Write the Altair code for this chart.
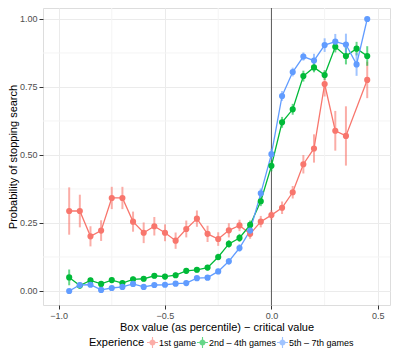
import altair as alt
import pandas as pd

x_vals = [-0.95, -0.90, -0.85, -0.80, -0.75, -0.70, -0.65, -0.60, -0.55, -0.50,
          -0.45, -0.40, -0.35, -0.30, -0.25, -0.20, -0.15, -0.10, -0.05, 0.00,
          0.05, 0.10, 0.15, 0.20, 0.25, 0.30, 0.35, 0.40, 0.45]

groups = ["1st game", "2nd \u2013 4th games", "5th \u2013 7th games"]
colors = ["#F8766D", "#00BA38", "#619CFF"]

first_game = [0.294, 0.294, 0.201, 0.222, 0.342, 0.342, 0.255, 0.214, 0.238, 0.214,
              0.185, 0.228, 0.266, 0.210, 0.191, 0.223, 0.241, 0.210, 0.255, 0.279,
              0.306, 0.363, 0.466, 0.524, 0.761, 0.589, 0.570, None, 0.776]
first_err = [0.087, 0.060, 0.037, 0.038, 0.041, 0.041, 0.037, 0.038, 0.034, 0.031,
             0.030, 0.031, 0.030, 0.030, 0.025, 0.026, 0.021, 0.018, 0.021, 0.018,
             0.023, 0.023, 0.034, 0.052, 0.046, 0.073, 0.109, None, 0.067]

mid_games = [0.050, 0.020, 0.039, 0.026, 0.040, 0.029, 0.043, 0.045, 0.056, 0.053,
             0.058, 0.074, 0.078, 0.086, 0.125, 0.173, 0.195, 0.243, 0.330, 0.460,
             0.620, 0.668, 0.790, 0.822, 0.794, 0.898, 0.864, 0.891, 0.864]
mid_err = [0.029, 0.010, 0.010, 0.010, 0.010, 0.010, 0.010, 0.010, 0.010, 0.010,
           0.010, 0.010, 0.010, 0.010, 0.012, 0.014, 0.015, 0.016, 0.018, 0.020,
           0.020, 0.020, 0.020, 0.018, 0.018, 0.021, 0.031, 0.025, 0.036]

late_games = [0.000, 0.022, 0.023, 0.004, 0.011, 0.015, 0.026, 0.015, 0.022, 0.023,
              0.027, 0.029, 0.047, 0.049, 0.072, 0.109, 0.158, 0.222, 0.359, 0.503,
              0.717, 0.805, 0.862, 0.847, 0.904, 0.917, 0.906, 0.833, 1.000]
late_err = [0.000, 0.006, 0.006, 0.004, 0.006, 0.006, 0.006, 0.006, 0.006, 0.006,
            0.006, 0.006, 0.008, 0.008, 0.010, 0.012, 0.014, 0.016, 0.018, 0.020,
            0.018, 0.016, 0.015, 0.025, 0.025, 0.028, 0.040, 0.042, 0.000]

x_major = [-1.0, -0.5, 0.0, 0.5]
x_minor = [-0.75, -0.25, 0.25]
y_major = [0.0, 0.25, 0.5, 0.75, 1.0]
y_minor = [0.125, 0.375, 0.625, 0.875]

rows = []
for g, vals, errs in zip(groups, [first_game, mid_games, late_games],
                         [first_err, mid_err, late_err]):
    for x, v, e in zip(x_vals, vals, errs):
        if v is None:
            continue
        rows.append({"x": x, "p": v, "lo": v - e, "hi": v + e, "group": g})
df = pd.DataFrame(rows)

FONT = "Liberation Sans"
xscale = alt.Scale(domain=[-1.073, 0.557], nice=False, zero=False)
yscale = alt.Scale(domain=[-0.0515, 1.0404], nice=False, zero=False)
cscale = alt.Scale(domain=groups, range=colors)

# legend key: point with line and error bar crossing it
KEY = ("M-1,-0.1H1V0.1H-1Z M-0.1,-1H0.1V1H-0.1Z "
       "M0.55,0A0.55,0.55 0 1,1 -0.55,0A0.55,0.55 0 1,1 0.55,0Z")

xaxis = alt.Axis(values=x_major, format=".1f", title="Box value (as percentile) \u2212 critical value",
                 grid=True, gridColor="#ebebeb", gridWidth=1, domain=False,
                 tickColor="#333333", tickSize=4, labelColor="#4d4d4d", labelFontSize=9,
                 labelPadding=2, titleFontSize=11, titleFontWeight="normal",
                 titleColor="#000000", titlePadding=1, labelFont=FONT, titleFont=FONT)
yaxis = alt.Axis(values=y_major, format=".2f", title="Probability of stopping search",
                 grid=True, gridColor="#ebebeb", gridWidth=1, domain=False,
                 tickColor="#333333", tickSize=4, labelColor="#4d4d4d", labelFontSize=9,
                 labelPadding=2, titleFontSize=11, titleFontWeight="normal",
                 titleColor="#000000", titlePadding=1, labelFont=FONT, titleFont=FONT)

base = alt.Chart(df)

minor_x = alt.Chart(pd.DataFrame({"v": x_minor})).mark_rule(
    color="#f4f4f4", strokeWidth=1).encode(x=alt.X("v:Q", scale=xscale, axis=xaxis))
minor_y = alt.Chart(pd.DataFrame({"v": y_minor})).mark_rule(
    color="#f4f4f4", strokeWidth=1).encode(y=alt.Y("v:Q", scale=yscale, axis=yaxis))
vline = alt.Chart(pd.DataFrame({"v": [0.0]})).mark_rule(
    color="#333333", strokeWidth=0.8).encode(x=alt.X("v:Q", scale=xscale, axis=xaxis))

color_enc = alt.Color("group:N", scale=cscale, sort=groups,
                      legend=alt.Legend(title="Experience", orient="none", direction="horizontal",
                                        titleOrient="left", legendX=46, legendY=329,
                                        symbolType=KEY, symbolSize=121,
                                        symbolStrokeWidth=0, labelFontSize=9,
                                        titleFontSize=11, titleFontWeight="normal",
                                        labelFont=FONT, titleFont=FONT,
                                        columnPadding=0, symbolOffset=0, labelOffset=1,
                                        titlePadding=2, titleColor="#000000",
                                        labelColor="#000000"))

errs = base.mark_rule(strokeWidth=2, opacity=0.6).encode(
    x=alt.X("x:Q", scale=xscale, axis=xaxis),
    y=alt.Y("lo:Q", scale=yscale, axis=yaxis),
    y2="hi:Q",
    color=color_enc)
lines = base.mark_line(strokeWidth=1.3).encode(
    x=alt.X("x:Q", scale=xscale, axis=xaxis),
    y=alt.Y("p:Q", scale=yscale, axis=yaxis),
    color=color_enc)
pts = base.mark_circle(size=38, opacity=1).encode(
    x=alt.X("x:Q", scale=xscale, axis=xaxis),
    y=alt.Y("p:Q", scale=yscale, axis=yaxis),
    color=color_enc)

chart = alt.layer(minor_x, minor_y, vline, errs, lines, pts).properties(
    width=347, height=297,
    autosize=alt.AutoSizeParams(type="none"),
    padding={"left": 35, "top": 0, "right": 1, "bottom": 46},
).configure_view(stroke="#b3b3b3", strokeWidth=1).configure(background="white")

chart.save("out.html", embed_options={"renderer": "svg", "actions": False})
